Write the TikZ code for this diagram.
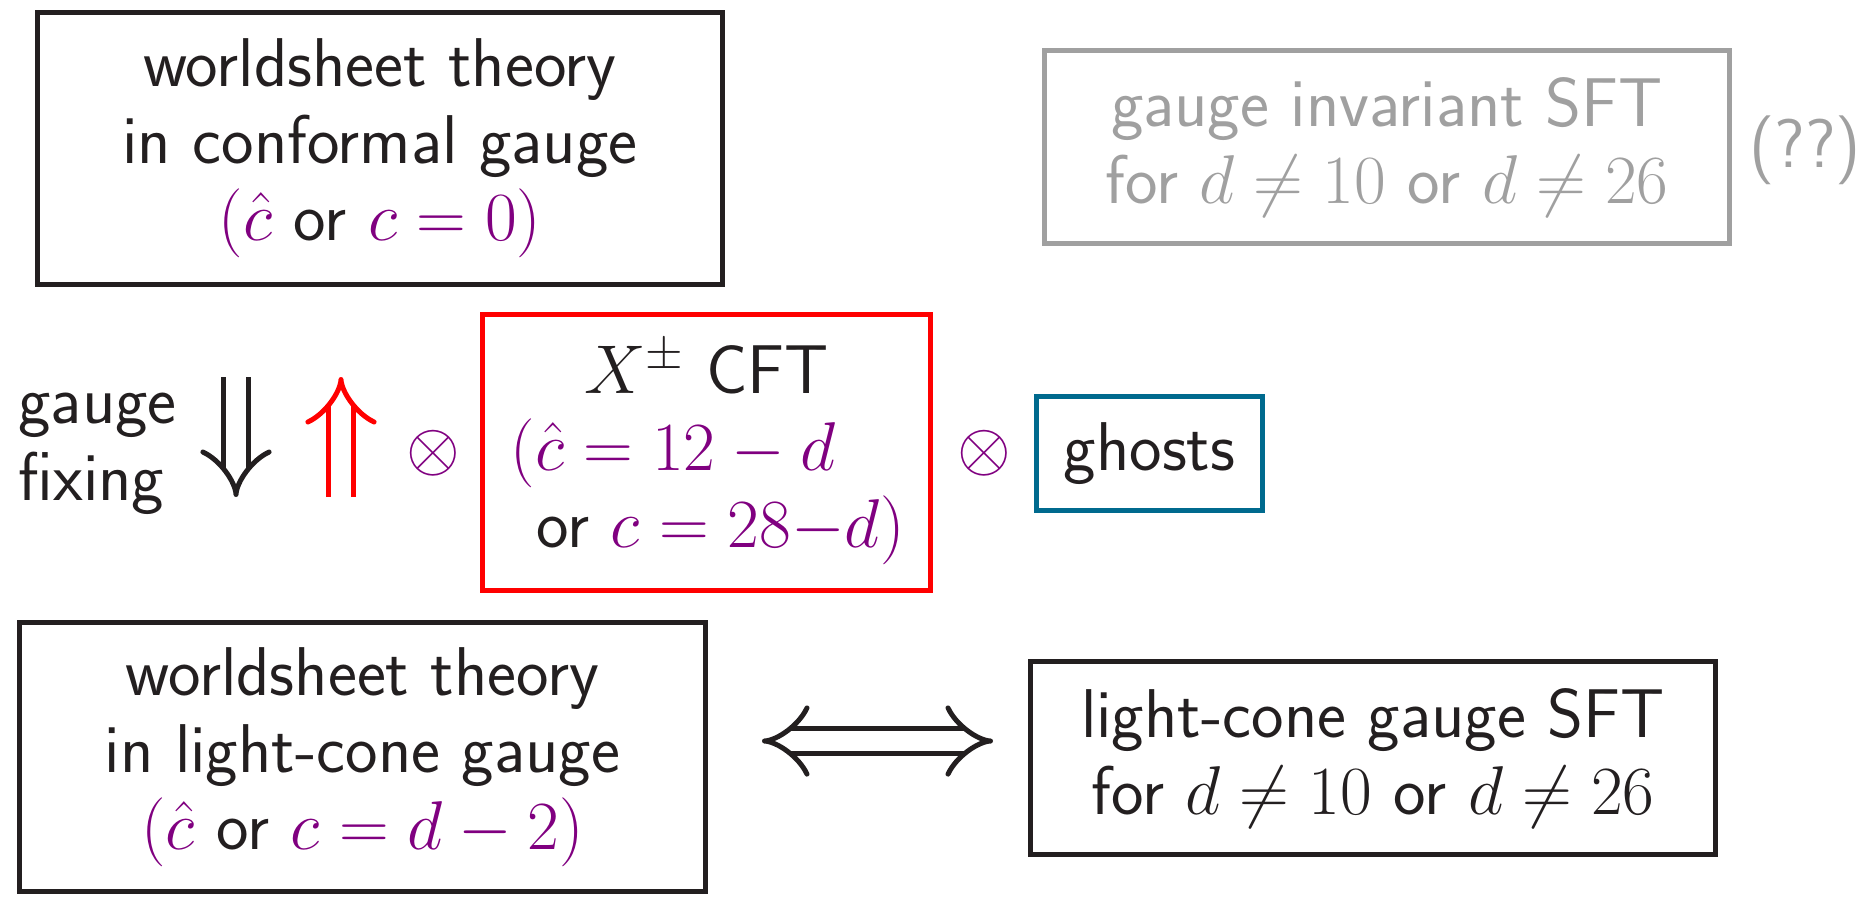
\RequirePackage{fix-cm}
\documentclass[tikz,border=0pt]{standalone}
\usepackage{tikz}
\usetikzlibrary{arrows.meta, positioning}
\usepackage{xcolor}

\definecolor{mathpurple}{HTML}{800080}
\definecolor{ghostblue}{HTML}{006A8E}
\definecolor{softgray}{HTML}{A0A0A0}
\definecolor{inkblack}{HTML}{231F20}
\newcommand{\pur}[1]{\textcolor{mathpurple}{#1}}

\begin{document}
\begin{tikzpicture}[
        x=0.4pt, y=-0.4pt,
        font=\sffamily\fontsize{27.6}{30.8}\selectfont,
        box/.style={draw=inkblack, line width=2pt, align=center, text=inkblack, minimum width=274pt},
        graybox/.style={box, draw=softgray, text=softgray, minimum height=77.2pt},
        cftbox/.style={box, draw=red, minimum width=179.2pt, minimum height=110.4pt},
        ghostbox/.style={box, draw=ghostblue, minimum width=90.4pt, minimum height=45.6pt},
        dbl_arrow/.style={double, double distance=8pt, line width=2pt, -{Implies}, draw=inkblack}
    ]
    \useasboundingbox (0,0) rectangle (1876,896);

    \node[box, minimum height=108.8pt] (wsconf) at (380,148.5) {worldsheet theory\\ in conformal gauge\\ $\pur{(\hat c}$ or $\pur{c=0)}$};
    \node[graybox] (gisft) at (1387,147) {gauge invariant SFT\\ for $d\neq 10$ or $d\neq 26$};
    \node[text=softgray, inner sep=0pt] (qq) at (1805,150) {(??)};

    \node[inner sep=0pt, align=left, anchor=west, text=inkblack] (gfix) at (18,454) {gauge\\ fixing};
    \coordinate (downtop) at (236,377);
    \coordinate (downbot) at (236,497);
    \coordinate (upbot) at (341,497);
    \coordinate (uptop) at (341,377);
    \draw[dbl_arrow] (downtop) -- (downbot);
    \draw[dbl_arrow, draw=red] (upbot) -- (uptop);

    \node[text=mathpurple, inner sep=0pt] (otimesA) at (433,453) {$\otimes$};
    \node[cftbox] (cft) at (706.5,452.5) {$X^\pm$ CFT\\ $\pur{(\hat c = 12-d}$\rule{26.8pt}{0pt}\\ \rule{11.2pt}{0pt}or $\pur{c = 28{-}d)}$};
    \node[text=mathpurple, inner sep=0pt] (otimesB) at (984,453) {$\otimes$};
    \node[ghostbox] (ghosts) at (1149.5,453.5) {ghosts};

    \node[box, minimum height=107.6pt] (wslc) at (362.5,757) {worldsheet theory\\ in light-cone gauge\\ $\pur{(\hat c}$ or $\pur{c=d-2)}$};
    \node[box, minimum height=77.2pt] (lcsft) at (1373,758) {light-cone gauge SFT\\ for $d\neq 10$ or $d\neq 26$};

    \coordinate (equivL) at (762,741);
    \coordinate (equivR) at (993,741);
    \draw[dbl_arrow, {Implies}-{Implies}] (equivL) -- (equivR);
\end{tikzpicture}
\end{document}
